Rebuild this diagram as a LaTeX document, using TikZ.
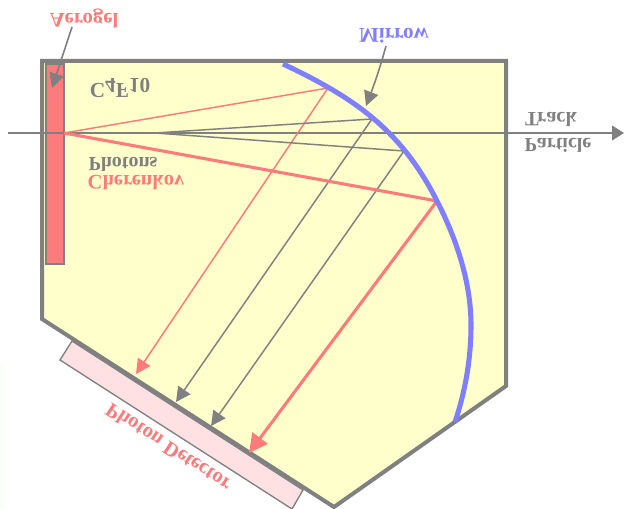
\documentclass[tikz,border=0pt]{standalone}
\usepackage{fontspec}
\setmainfont{Liberation Serif}
\usetikzlibrary{arrows.meta}
\definecolor{gr}{HTML}{808080}
\definecolor{rd}{HTML}{FF7A7A}
\definecolor{bl}{HTML}{7F7FFF}
\definecolor{yl}{HTML}{FFFFCC}
\definecolor{pk}{HTML}{FFE0E3}
\tikzset{
 flip/.style={font=\bfseries\fontsize{#1}{#1}\selectfont,yscale=-1,inner sep=0pt},
 tip/.style={-{Triangle[length=#1*1pt,width=#1*1pt]}},
 vessel/.style={draw=gr,fill=yl,line width=3pt,line join=miter},
 ray/.style={draw=gr,line width=1.1pt},
 thinred/.style={draw=rd,line width=1.1pt},
 thickred/.style={draw=rd,line width=2.3pt}
}
\begin{document}
\begin{tikzpicture}[x=0.75pt,y=-0.75pt]
\useasboundingbox (0,0) rectangle (624,509);
\fill[green!3] (0,365) rectangle (5,509);
% detector
\draw[draw=gr,fill=pk,line width=1pt] (72,341) -- (60,360) -- (292,509) -- (303,490) -- cycle;
% vessel
\draw[vessel] (42,61) -- (506,61) -- (506,386) -- (334,507) -- (42,319) -- cycle;
% aerogel
\node[draw=gr,fill=rd,line width=1pt,minimum width=13.5pt,minimum height=150pt,inner sep=0pt] (aero) at (55,164) {};
% named coordinates
\coordinate (origin) at (64,133);
\coordinate (split) at (155,133);
\coordinate (m1) at (328,88);
\coordinate (m2) at (372,119);
\coordinate (m3) at (404,151);
\coordinate (m4) at (437,201);
\coordinate (d1) at (136,374);
\coordinate (d2) at (176,402);
\coordinate (d3) at (211,426);
\coordinate (d4) at (249,453);
\coordinate (tstart) at (8,133);
\coordinate (tend) at (624,133);
% track
\draw[gr,line width=1.6pt,-{Triangle[length=9pt,width=11pt]}] (tstart) -- (tend);
% rays
\draw[thinred] (origin) -- (m1);
\draw[thinred,tip=11] (m1) -- (d1);
\draw[ray] (split) -- (m2);
\draw[ray,tip=11] (m2) -- (d2);
\draw[ray] (split) -- (m3);
\draw[ray,tip=11] (m3) -- (d3);
\draw[thickred] (origin) -- (m4);
\draw[thickred,tip=14] (m4) -- (d4);
% mirror
\draw[bl,line width=3.8pt] (283,64) .. controls (355,98) and (401,130) .. (437,201) .. controls (455,236) and (471,280) .. (471,325) .. controls (471,360) and (465,392) .. (455,422);
% labels
\node[flip=15.5,text=rd] (laero) at (84,18) {Aerogel};
\node[flip=15.8,text=bl] (lmirror) at (394,36) {Mirrow};
\node[flip=16,text=gr] (lgas) at (120,88) {C\raisebox{-.6ex}{4}F\raisebox{-.6ex}{10}};
\node[flip=15,text=gr] (lphot) at (123,164) {Photons};
\node[flip=15.4,text=rd] (lcher) at (136,183) {Cherenkov};
\node[flip=15.3,text=gr] (ltrack) at (551,119) {Track};
\node[flip=15,text=gr] (lpart) at (558,145) {Particle};
\node[flip=15.5,text=rd,rotate=33] (ldet) at (168,448) {Photon Detector};
% pointers
\draw[gr,line width=1.2pt,tip=11] (72,27) -- (52,88);
\draw[gr,line width=1.2pt,tip=11] (386,46) .. controls (380,68) and (374,85) .. (366,106);
\end{tikzpicture}
\end{document}
